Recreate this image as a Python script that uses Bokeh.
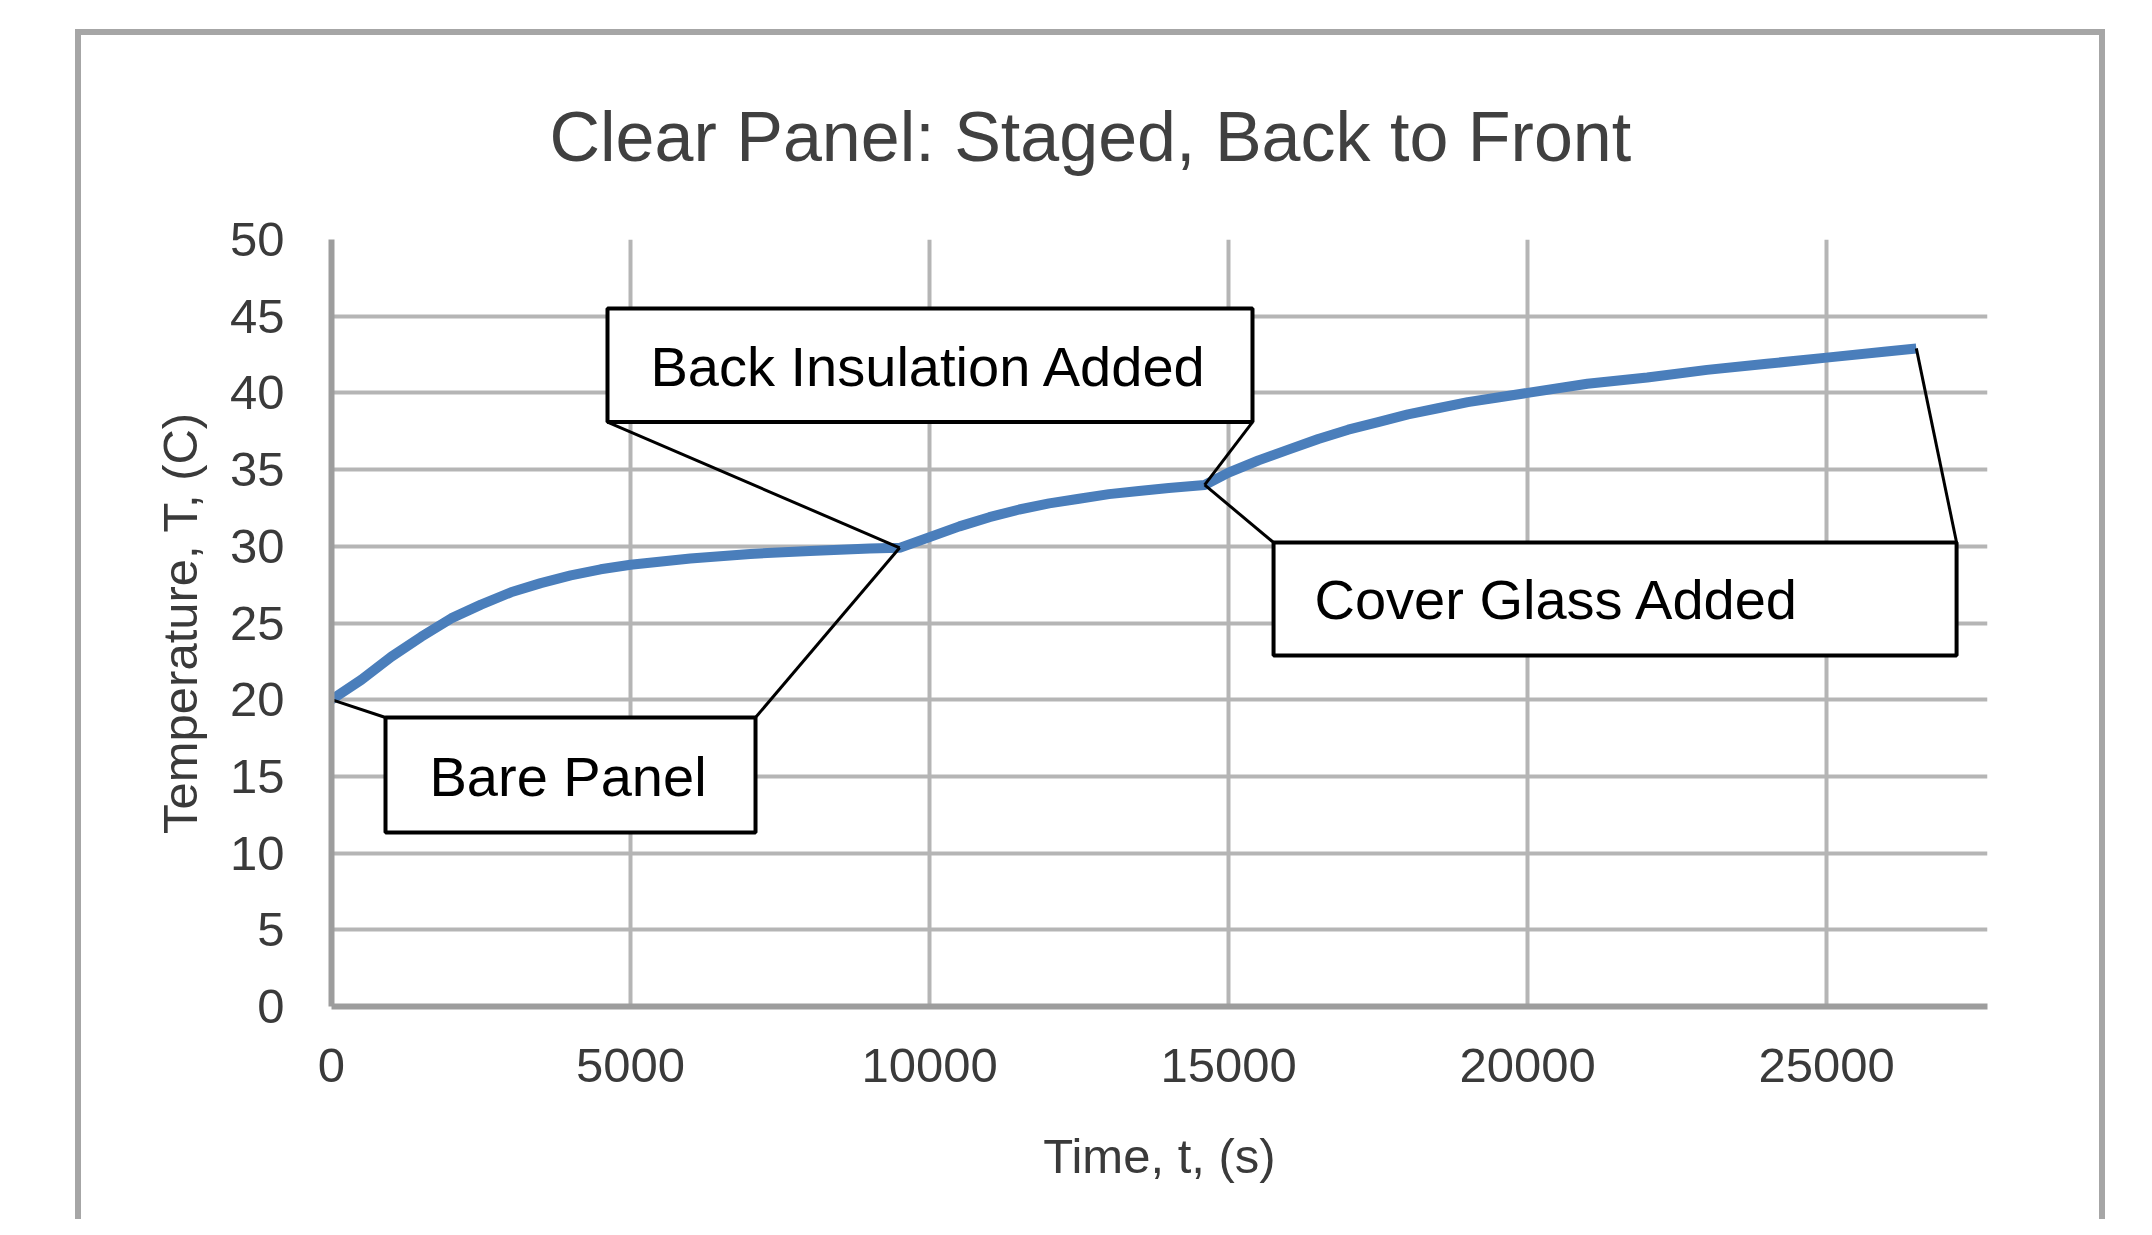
import numpy as np
from bokeh.plotting import figure
from bokeh.models import Range1d, FixedTicker
from bokeh.core.properties import value
from bokeh.embed import file_html
from bokeh.resources import INLINE

# ---- data ----
time_s = [0, 500, 1000, 1500, 2000, 2500, 3000, 3500, 4000, 4500, 5000, 6000, 7000, 8000,
          9000, 9500, 10000, 10500, 11000, 11500, 12000, 12500, 13000, 13500, 14000, 14600,
          15000, 15500, 16000, 16500, 17000, 17500, 18000, 18500, 19000, 19500, 20000,
          21000, 22000, 23000, 24000, 25000, 26000, 26500]
temp_c = [20.0, 21.3, 22.8, 24.1, 25.3, 26.2, 27.0, 27.6, 28.1, 28.5, 28.8, 29.2, 29.5, 29.7,
          29.85, 29.9, 30.6, 31.3, 31.9, 32.4, 32.8, 33.1, 33.4, 33.6, 33.8, 34.0,
          34.8, 35.6, 36.3, 37.0, 37.6, 38.1, 38.6, 39.0, 39.4, 39.7, 40.0,
          40.6, 41.0, 41.5, 41.9, 42.3, 42.7, 42.9]

stage_labels = ["Bare Panel", "Back Insulation Added", "Cover Glass Added"]
stage_start_s = [0, 9500, 14600]
stage_end_s = [9500, 14600, 26500]

x_ticks = [0, 5000, 10000, 15000, 20000, 25000]
y_ticks = [0, 5, 10, 15, 20, 25, 30, 35, 40, 45, 50]

title_text = "Clear Panel: Staged, Back to Front"
x_title = "Time, t, (s)"
y_title = "Temperature, T, (C)"

# ---- layout constants ----
W, H = 2136, 1219
GREY_TXT = "#3a3a3a"
GRID = "#b5b5b5"
AXIS = "#9d9d9d"
BLUE = "#4a7ebb"
BORDER = "#a6a6a6"

p = figure(width=W, height=H, x_range=Range1d(0, 27690), y_range=Range1d(0, 50),
           output_backend="svg", toolbar_location=None,
           min_border_left=331, min_border_right=149, min_border_top=239, min_border_bottom=213)
p.background_fill_color = "white"
p.border_fill_color = None
p.outline_line_color = None

# outer chart border drawn as the page element's background (outside the frame)
g = f"linear-gradient({BORDER},{BORDER})"
p.styles = {
    "background": (f"{g} 75px 29px / 6px 1400px no-repeat, "
                   f"{g} 2099px 29px / 6px 1400px no-repeat, "
                   f"{g} 75px 29px / 2030px 6px no-repeat, white")
}

# title
p.title.text = title_text
p.title.align = "left"
p.title.offset = 218
p.title.standoff = 128
p.title.text_font = "Liberation Sans"
p.title.text_font_style = "normal"
p.title.text_font_size = "70px"
p.title.text_color = "#404040"

# axes
p.xaxis.ticker = FixedTicker(ticks=x_ticks)
p.yaxis.ticker = FixedTicker(ticks=y_ticks)
for ax in (p.xaxis, p.yaxis):
    ax.major_tick_in = 0
    ax.major_tick_out = 0
    ax.minor_tick_in = 0
    ax.minor_tick_out = 0
    ax.axis_line_color = AXIS
    ax.axis_line_width = 6
    ax.major_label_text_font = "Liberation Sans"
    ax.major_label_text_font_style = "normal"
    ax.major_label_text_font_size = "49px"
    ax.major_label_text_color = GREY_TXT
    ax.axis_label_text_font = "Liberation Sans"
    ax.axis_label_text_font_style = "normal"
    ax.axis_label_text_font_size = "49px"
    ax.axis_label_text_color = GREY_TXT
p.xaxis.axis_label = x_title
p.yaxis.axis_label = y_title
p.xaxis.major_label_standoff = 42
p.yaxis.major_label_standoff = 47
p.xaxis.axis_label_standoff = 44
p.yaxis.axis_label_standoff = 20

# grid
p.xgrid.ticker = FixedTicker(ticks=x_ticks)
p.ygrid.ticker = FixedTicker(ticks=y_ticks)
for gr in (p.xgrid, p.ygrid):
    gr.grid_line_color = GRID
    gr.grid_line_width = 4

# data curve
p.line(time_s, temp_c, line_width=10, line_color=BLUE)

# callouts (box geometry in data units; leaders go to stage start / end points)
boxes = [(903, 7090, 11.34, 18.84), (4615, 15400, 38.1, 45.5), (15752, 27173, 22.88, 30.25)]
text_pos = [(1639, 15.0), (5334, 41.7), (16437, 26.5)]
for lab, t0, t1, (l, r, b, t), (tx, ty) in zip(stage_labels, stage_start_s, stage_end_s, boxes, text_pos):
    T0 = float(np.interp(t0, time_s, temp_c))
    T1 = float(np.interp(t1, time_s, temp_c))
    edge = t if t < T0 else b
    p.segment(x0=[l, r], y0=[edge, edge], x1=[t0, t1], y1=[T0, T1],
              line_color="black", line_width=3)
    p.quad(left=[l], right=[r], bottom=[b], top=[t], fill_color="white",
           line_color="black", line_width=4)
    p.text(x=[tx], y=[ty], text=[lab], text_font=value("Liberation Sans"),
           text_font_size="56px", text_color="black", text_baseline="middle",
           text_align="left")

open("out.html", "w").write(file_html(p, INLINE))
